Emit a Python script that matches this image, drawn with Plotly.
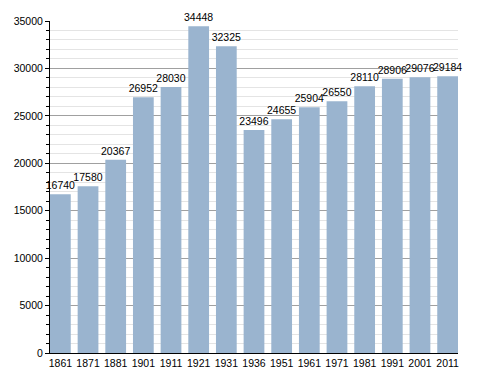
import plotly.graph_objects as go

years = ["1861", "1871", "1881", "1901", "1911", "1921", "1931", "1936",
         "1951", "1961", "1971", "1981", "1991", "2001", "2011"]
population = [16740, 17580, 20367, 26952, 28030, 34448, 32325, 23496,
              24655, 25904, 26550, 28110, 28906, 29076, 29184]
y_ticks = [0, 5000, 10000, 15000, 20000, 25000, 30000, 35000]

fig = go.Figure(go.Bar(
    x=years, y=population,
    marker=dict(color="rgb(154,180,207)", line=dict(width=0)),
    text=[str(v) for v in population],
    textposition="outside",
    textfont=dict(family="Liberation Sans, Arial", size=10.5, color="black"),
    cliponaxis=False,
))

# page body has an 8px default margin, so the figure is sized to fit the window
fig.update_layout(
    width=480, height=365,
    margin=dict(l=42, r=30, t=13, b=20),
    plot_bgcolor="white", paper_bgcolor="white",
    bargap=0.25,
    showlegend=False,
    font=dict(family="Liberation Sans, Arial", size=10.5, color="black"),
    uniformtext=dict(minsize=10, mode="show"),
)
fig.update_yaxes(
    range=[0, 35000], tickvals=y_ticks, ticktext=[str(v) for v in y_ticks],
    showline=True, linecolor="black", linewidth=1,
    ticks="outside", ticklen=4, tickcolor="black",
    gridcolor="#a0a0a0", gridwidth=1,
    minor=dict(dtick=1000, ticks="outside", ticklen=3, tickcolor="black",
               showgrid=True, gridcolor="#e4e4e4"),
    zeroline=False, automargin=False,
)
fig.update_xaxes(
    range=[-0.375, 14.375],
    showline=True, linecolor="black", linewidth=1,
    ticks="", automargin=False,
)

fig.write_html("out.html")
